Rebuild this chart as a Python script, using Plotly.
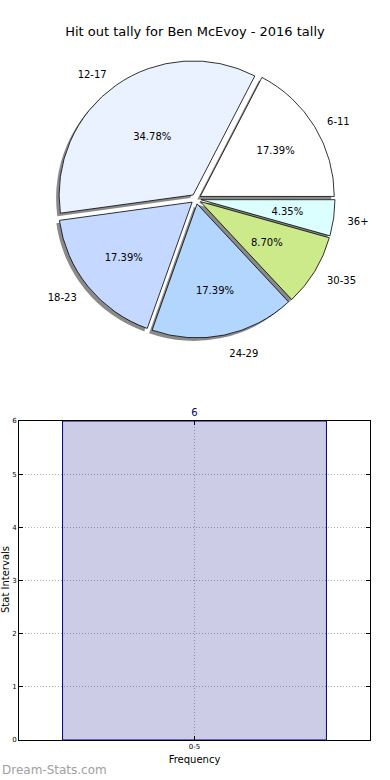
import plotly.graph_objects as go

# ---- data ----
pie_labels = ["6-11", "12-17", "18-23", "24-29", "30-35", "36+"]
pie_counts = [4, 8, 4, 4, 2, 1]
pie_colors = ["#FFFFFF", "#EAF1FF", "#C5D8FF", "#B3D6FF", "#CDEA8A", "#DBFFFF"]
pie_title = "Hit out tally for Ben McEvoy - 2016 tally"

bar_categories = ["0-5"]
bar_values = [6]
y_ticks = [0, 1, 2, 3, 4, 5, 6]

W, H = 390, 780
FONT = "DejaVu Sans"


def fx(px):
    return px / W


def fy(py):
    return 1 - py / H


def dom(cx, cy, half):
    return dict(x=[fx(cx - half), fx(cx + half)], y=[fy(cy + half), fy(cy - half)])


# pie geometry (pixels)
cx, cy, half = 196, 199, 139
pull = 0.037
sdx, sdy = -3, 3
rot = 27.4
small_share = 0.1  # slices below this share get their percentage drawn nearer the centre

total = sum(pie_counts)
big_tpl = ["%{percent:.2%}" if c / total >= small_share else "" for c in pie_counts]
small_tpl = ["" if c / total >= small_share else "%{percent:.2%}" for c in pie_counts]

common = dict(
    labels=pie_labels,
    values=pie_counts,
    sort=False,
    direction="counterclockwise",
    rotation=rot,
    pull=[pull] * len(pie_counts),
    hoverinfo="skip",
    showlegend=False,
)
clear = dict(colors=["rgba(0,0,0,0)"] * len(pie_counts), line=dict(width=0))
tfont = dict(family=FONT, size=10, color="black")

fig = go.Figure()

# shadow
fig.add_trace(go.Pie(
    **common,
    domain=dom(cx + sdx, cy + sdy, half),
    marker=dict(colors=["rgba(60,60,60,0.6)"] * len(pie_counts), line=dict(width=0)),
    textinfo="none",
))

# main pie with percentages of the larger slices
fig.add_trace(go.Pie(
    **common,
    domain=dom(cx, cy, half),
    marker=dict(colors=pie_colors, line=dict(color="black", width=0.8)),
    texttemplate=big_tpl,
    textposition="inside",
    insidetextorientation="horizontal",
    textfont=tfont,
))

# percentages of the small slices, placed nearer the centre
fig.add_trace(go.Pie(
    **common,
    domain=dom(cx, cy, half * 0.75),
    marker=clear,
    texttemplate=small_tpl,
    textposition="inside",
    insidetextorientation="horizontal",
    textfont=tfont,
))

# outside labels
fig.add_trace(go.Pie(
    **common,
    domain=dom(cx, cy + 2, half * 1.08),
    marker=clear,
    texttemplate="%{label}",
    textposition="outside",
    textfont=tfont,
))

# bar chart
fig.add_trace(go.Bar(
    x=bar_categories,
    y=bar_values,
    marker=dict(color="rgba(0,0,128,0.2)", line=dict(color="navy", width=1)),
    text=[str(v) for v in bar_values],
    textposition="outside",
    textfont=dict(family=FONT, size=10, color="navy"),
    cliponaxis=False,
    hoverinfo="skip",
    showlegend=False,
    xaxis="x",
    yaxis="y",
))

grid = dict(showgrid=True, gridcolor="#b0b0b0", griddash="1px,2px", gridwidth=1)

fig.update_layout(
    width=W,
    height=H,
    margin=dict(l=0, r=0, t=0, b=0),
    paper_bgcolor="white",
    plot_bgcolor="white",
    font=dict(family=FONT, size=10, color="black"),
    title=dict(text=pie_title, x=0.5, xanchor="center", y=fy(31), yanchor="middle",
               font=dict(family=FONT, size=13, color="black")),
    uniformtext=dict(minsize=10, mode="show"),
    bargap=0.2,
    xaxis=dict(
        domain=[fx(19), fx(370)],
        range=[-0.532, 0.532],
        automargin=False,
        showline=True, mirror="ticks", linecolor="black", linewidth=1,
        ticks="inside", ticklen=4, tickcolor="black",
        tickfont=dict(family=FONT, size=7),
        title=dict(text="Frequency", font=dict(family=FONT, size=10), standoff=5),
        fixedrange=True,
        **grid,
    ),
    yaxis=dict(
        domain=[fy(740), fy(421)],
        range=[0, 6],
        tickvals=y_ticks,
        automargin=False,
        showline=True, mirror="ticks", linecolor="black", linewidth=1,
        ticks="inside", ticklen=4, tickcolor="black",
        tickfont=dict(family=FONT, size=7),
        zeroline=False,
        fixedrange=True,
        **grid,
    ),
    annotations=[
        dict(text="Stat Intervals", textangle=-90, x=fx(5), y=fy(580), xref="paper", yref="paper",
             xanchor="center", yanchor="middle", showarrow=False,
             font=dict(family=FONT, size=10, color="black")),
        dict(text="Dream-Stats.com", x=0, y=fy(770), xref="paper", yref="paper",
             xanchor="left", yanchor="middle", showarrow=False,
             font=dict(family=FONT, size=12, color="#a0a0a0")),
    ],
)

fig.write_html(
    "out.html",
    config={"displayModeBar": False},
    post_script="document.body.style.margin='0';document.body.style.overflow='hidden';",
)
